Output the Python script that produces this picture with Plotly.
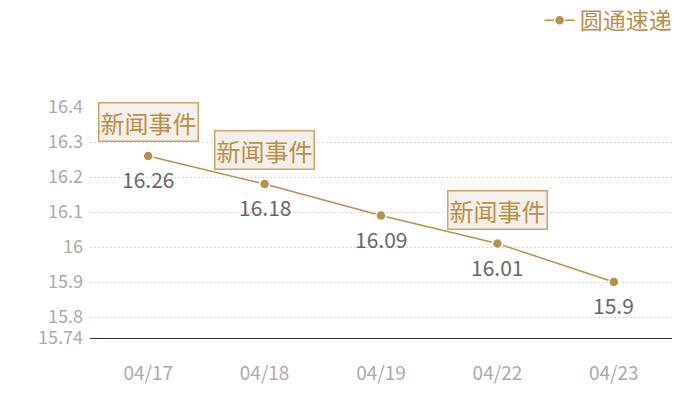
import plotly.graph_objects as go

# data
dates = ["04/17", "04/18", "04/19", "04/22", "04/23"]
prices = [16.26, 16.18, 16.09, 16.01, 15.9]
event_dates = ["04/17", "04/18", "04/22"]
event_prices = [16.26, 16.18, 16.01]
event_text = "新闻事件"
series_name = "圆通速递"
y_ticks = [15.74, 15.8, 15.9, 16.0, 16.1, 16.2, 16.3, 16.4]
y_tick_labels = ["15.74", "15.8", "15.9", "16", "16.1", "16.2", "16.3", "16.4"]

gold = "#b8904a"
font = "Noto Sans CJK SC"

fig = go.Figure()
fig.add_trace(go.Scatter(
    x=dates, y=prices, name=series_name, mode="lines+markers",
    line=dict(color=gold, width=1.5),
    marker=dict(color=gold, size=10, line=dict(color="white", width=1.5)),
))

# value labels under each point
for d, p in zip(dates, prices):
    fig.add_annotation(x=d, y=p, text=f"{p:g}", showarrow=False,
                       yanchor="top", yshift=-6,
                       font=dict(family=font, size=21, color="#666666"))

# event markers above points
for d, p in zip(event_dates, event_prices):
    fig.add_annotation(x=d, y=p, text=event_text, showarrow=False,
                       yanchor="bottom", yshift=14,
                       bgcolor="#f4efe9", bordercolor="#c9a56c", borderwidth=1.5,
                       borderpad=1,
                       font=dict(family=font, size=24, color=gold))

fig.update_layout(
    width=700, height=400,
    margin=dict(l=82, r=36, t=99, b=70, autoexpand=False),
    paper_bgcolor="white", plot_bgcolor="white",
    font=dict(family=font),
    showlegend=True,
    legend=dict(x=1.008, y=1.375, xanchor="right", yanchor="middle",
                font=dict(family=font, size=23, color=gold),
                bgcolor="rgba(0,0,0,0)"),
    xaxis=dict(type="category", range=[-0.5, 4.5], showgrid=False,
               showline=True, linecolor="#333333", linewidth=1.2,
               ticks="", automargin=False,
               tickfont=dict(family=font, size=19, color="#aaaaaa"),
               ticklabelstandoff=18),
    yaxis=dict(range=[15.74, 16.4], tickvals=y_ticks, ticktext=y_tick_labels,
               showgrid=True, gridcolor="#d6d6d6", griddash="2px,2px", gridwidth=1,
               zeroline=False, showline=False, ticks="", automargin=False,
               tickfont=dict(family=font, size=18, color="#aaaaaa"),
               ticklabelstandoff=6),
)

fig.write_html("out.html")
